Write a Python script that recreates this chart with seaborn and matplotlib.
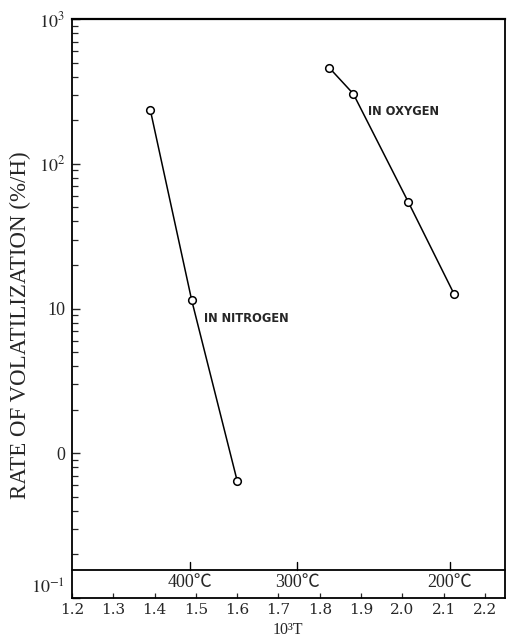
import numpy as np
import pandas as pd
import matplotlib
matplotlib.use("Agg")
import matplotlib.pyplot as plt
import seaborn as sns

# Reciprocal temperature (10^3/T) and volatilization rate (%/h)
nitrogen_x = [1.39, 1.49, 1.60]
nitrogen_rate = [234, 11.4, 0.645]
oxygen_x = [1.823, 1.881, 2.014, 2.125]
oxygen_rate = [461, 305, 54.6, 12.6]

x_ticks = [1.2, 1.3, 1.4, 1.5, 1.6, 1.7, 1.8, 1.9, 2.0, 2.1, 2.2]
y_ticks = [0.1, 1, 10, 100, 1000]
y_tick_labels = ["$10^{-1}$", "0", "10", "$10^2$", "$10^3$"]
temps_c = [400, 300, 200]
temp_labels = ["400℃", "300℃", "200℃"]

sns.set_style("ticks")
plt.rcParams["font.family"] = ["Liberation Serif", "DejaVu Serif"]
plt.rcParams["mathtext.fontset"] = "stix"

fig = plt.figure(figsize=(5.1, 6.38), dpi=100)
ax = fig.add_axes([0.141, 0.0627, 0.849, 0.9073])

df_n = pd.DataFrame({"x": nitrogen_x, "rate": nitrogen_rate})
df_o = pd.DataFrame({"x": oxygen_x, "rate": oxygen_rate})
line_kw = dict(color="black", linewidth=1.1, marker="o", markersize=5.5,
               markerfacecolor="white", markeredgecolor="black",
               markeredgewidth=1.1, sort=False, ax=ax)
sns.lineplot(data=df_n, x="x", y="rate", **line_kw)
sns.lineplot(data=df_o, x="x", y="rate", **line_kw)

ax.set_yscale("log")
ax.set_xlim(1.2, 2.248)
ax.set_ylim(0.1, 1000)

ax.set_yticks(y_ticks)
ax.set_yticklabels(y_tick_labels)
ax.yaxis.set_minor_locator(matplotlib.ticker.LogLocator(base=10, subs=np.arange(2, 10)))
ax.yaxis.set_minor_formatter(matplotlib.ticker.NullFormatter())
ax.set_xticks(x_ticks)
ax.set_xticklabels([f"{v:.1f}" for v in x_ticks], family="DejaVu Serif")

ax.tick_params(axis="y", which="major", direction="in", length=6, width=1.0,
               labelsize=13, pad=5)
ax.tick_params(axis="y", which="minor", direction="in", length=4.5, width=0.9)
ax.tick_params(axis="x", which="major", direction="in", length=3.5, width=0.9,
               labelsize=11, pad=3.5)

# the lowest decade label sits just above the corner
ax.yaxis.get_major_ticks()[0].label1.set_va("bottom")

for s in ax.spines.values():
    s.set_linewidth(1.3)
    s.set_color("black")
ax.spines["top"].set_linewidth(1.6)

ax.set_ylabel("RATE OF VOLATILIZATION (%/H)", fontsize=16.5)
ax.yaxis.set_label_coords(-0.095, 0.472)
ax.set_xlabel("10³T", fontsize=11.5, va="baseline")
ax.xaxis.set_label_coords(0.499, -0.0622)

# Celsius scale drawn as a line near the bottom of the axes
trans = ax.get_xaxis_transform()
scale_y = 0.048
ax.plot([0, 1], [scale_y, scale_y], transform=ax.transAxes, color="black",
        linewidth=1.3, clip_on=False)
for t, lab in zip(temps_c, temp_labels):
    xv = 1000.0 / (t + 273)
    ax.plot([xv, xv], [scale_y, scale_y + 0.014], transform=trans,
            color="black", linewidth=1.0)
    ax.text(xv, scale_y - 0.006, lab, transform=trans, ha="center", va="top",
            fontsize=13, family=["Liberation Serif", "Noto Sans CJK JP"])

ax.text(1.917, 231, "IN OXYGEN", fontsize=8.3, family="DejaVu Sans",
        weight="bold", ha="left", va="center")
ax.text(1.519, 8.6, "IN NITROGEN", fontsize=8.3, family="DejaVu Sans",
        weight="bold", ha="left", va="center")

fig.savefig("out.png", dpi=100, facecolor="white")
